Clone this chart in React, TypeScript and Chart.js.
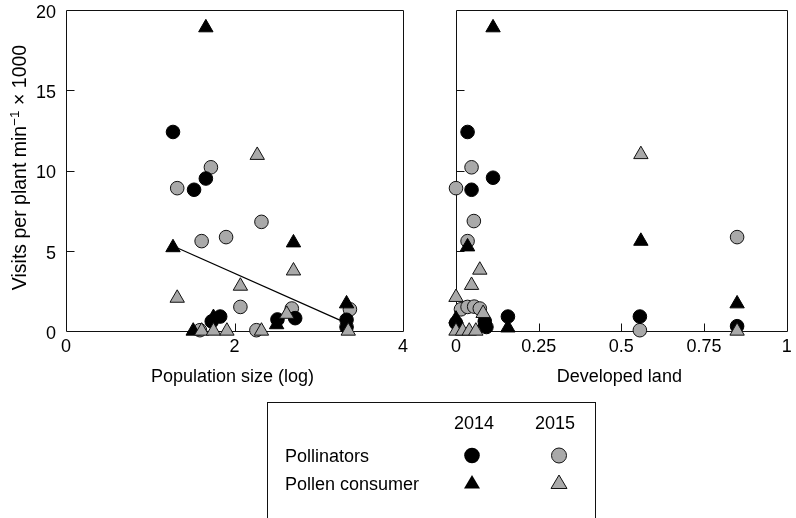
import { useEffect, useRef } from 'react';
import { Chart, registerables } from 'chart.js';

Chart.register(...registerables);

const FONT_FAMILY = '"Liberation Sans", Arial, Helvetica, sans-serif';
const GRAY = '#a9a9a9';

// ---- Left panel: population size (log) ----
const popPolli2014X = [1.27, 1.66, 1.52, 1.83, 1.73, 2.51, 2.72, 3.33, 3.33];
const popPolli2014Y = [12.4, 9.5, 8.8, 0.9, 0.6, 0.72, 0.8, 0.7, 0.25];
const popPolli2015X = [1.72, 1.32, 2.32, 1.61, 1.9, 2.07, 2.68, 3.37, 2.26, 1.59];
const popPolli2015Y = [10.2, 8.9, 6.8, 5.6, 5.85, 1.5, 1.4, 1.35, 0.05, 0.05];
const popCons2014X = [1.66, 1.27, 2.7, 3.33, 1.75, 1.51, 2.5];
const popCons2014Y = [18.9, 5.2, 5.5, 1.7, 0.85, 0, 0.4];
const popCons2015X = [2.27, 1.32, 2.07, 2.7, 2.62, 1.61, 1.75, 1.91, 2.32, 3.35];
const popCons2015Y = [10.95, 2.05, 2.8, 3.75, 1.05, 0, 0, 0, 0, 0];
const trendX = [1.27, 3.25];
const trendY = [5.3, 0.68];

// ---- Right panel: developed land ----
const devPolli2014X = [0.035, 0.112, 0.047, 0.157, 0.556, 0.85, 0, 0.087, 0.092];
const devPolli2014Y = [12.4, 9.55, 8.8, 0.9, 0.9, 0.3, 0.5, 0.6, 0.25];
const devPolli2015X = [0.047, 0, 0.054, 0.035, 0.85, 0.556, 0.015, 0.035, 0.055, 0.072];
const devPolli2015Y = [10.2, 8.9, 6.85, 5.6, 5.85, 0.05, 1.35, 1.5, 1.52, 1.4];
const devCons2014X = [0.112, 0.559, 0.035, 0.85, 0, 0.157, 0.085];
const devCons2014Y = [18.9, 5.6, 5.25, 1.7, 0.75, 0.2, 0.5];
const devCons2015X = [0.559, 0.072, 0.047, 0, 0.082, 0.85, 0, 0.02, 0.04, 0.06];
const devCons2015Y = [11.0, 3.8, 2.85, 2.1, 1.1, 0, 0, 0, 0, 0];

// ---- Ticks and labels ----
const yTickValues = [0, 5, 10, 15, 20];
const popTickValues = [0, 2, 4];
const devTickValues = [0, 0.25, 0.5, 0.75, 1];
const yTitleMain = 'Visits per plant min';
const yTitleSup = '\u22121';
const yTitleTail = ' \u00d7 1000';
const popTitle = 'Population size (log)';
const devTitle = 'Developed land';
const legendYears = ['2014', '2015'];
const legendGroups = ['Pollinators', 'Pollen consumer'];

const pts = (xs: number[], ys: number[]) => xs.map((x, i) => ({ x, y: ys[i] }));

const framePlugin = {
  id: 'frame',
  beforeDatasetsDraw(chart: any, _args: any, opts: any) {
    const { ctx, chartArea: a } = chart;
    const xs = chart.scales.x;
    const ys = chart.scales.y;
    const L = Math.round(a.left) + 0.5;
    const R = Math.round(a.right) + 0.5;
    const T = Math.round(a.top) + 0.5;
    const B = Math.round(a.bottom) + 0.5;
    ctx.save();
    ctx.strokeStyle = '#111';
    ctx.lineWidth = 1;
    ctx.beginPath();
    ctx.rect(L, T, R - L, B - T);
    const yt: number[] = opts.yTicks;
    const xt: number[] = opts.xTicks;
    yt.slice(1, -1).forEach((v) => {
      const py = Math.round(ys.getPixelForValue(v)) + 0.5;
      ctx.moveTo(L, py);
      ctx.lineTo(L + 8, py);
    });
    xt.slice(1, -1).forEach((v) => {
      const px = Math.round(xs.getPixelForValue(v)) + 0.5;
      ctx.moveTo(px, B);
      ctx.lineTo(px, B - 8);
    });
    ctx.stroke();
    ctx.restore();
  },
  afterDraw(chart: any, _args: any, opts: any) {
    const { ctx, chartArea: a } = chart;
    ctx.save();
    ctx.fillStyle = '#000';
    ctx.font = `18px ${FONT_FAMILY}`;
    ctx.textAlign = 'center';
    ctx.textBaseline = 'alphabetic';
    ctx.fillText(opts.xTitle, (a.left + a.right) / 2 - 2, a.bottom + 50.5);
    if (opts.yTitle) {
      ctx.translate(26, (a.top + a.bottom) / 2 - 3);
      ctx.rotate(-Math.PI / 2);
      ctx.textAlign = 'left';
      ctx.font = `19.5px ${FONT_FAMILY}`;
      const w1 = ctx.measureText(yTitleMain).width;
      const w3 = ctx.measureText(yTitleTail).width;
      ctx.font = `13.5px ${FONT_FAMILY}`;
      const w2 = ctx.measureText(yTitleSup).width;
      let sx = -(w1 + w2 + w3) / 2;
      ctx.font = `19.5px ${FONT_FAMILY}`;
      ctx.fillText(yTitleMain, sx, 0);
      sx += w1;
      ctx.font = `13.5px ${FONT_FAMILY}`;
      ctx.fillText(yTitleSup, sx, -7.5);
      sx += w2;
      ctx.font = `19.5px ${FONT_FAMILY}`;
      ctx.fillText(yTitleTail, sx, 0);
    }
    ctx.restore();
  },
};

function markerSets(p14x: number[], p14y: number[], p15x: number[], p15y: number[], c14x: number[], c14y: number[], c15x: number[], c15y: number[]) {
  return [
    {
      label: 'Pollen consumer 2015',
      data: pts(c15x, c15y),
      pointStyle: 'triangle',
      pointRadius: 8.3,
      backgroundColor: GRAY,
      borderColor: '#111',
      borderWidth: 1,
      clip: false,
      order: 1,
    },
    {
      label: 'Pollen consumer 2014',
      data: pts(c14x, c14y),
      pointStyle: 'triangle',
      pointRadius: 8.3,
      backgroundColor: '#000',
      borderColor: '#000',
      borderWidth: 1,
      clip: false,
      order: 2,
    },
    {
      label: 'Pollinators 2014',
      data: pts(p14x, p14y),
      pointStyle: 'circle',
      pointRadius: 6.8,
      backgroundColor: '#000',
      borderColor: '#000',
      borderWidth: 1,
      clip: false,
      order: 3,
    },
    {
      label: 'Pollinators 2015',
      data: pts(p15x, p15y),
      pointStyle: 'circle',
      pointRadius: 6.8,
      backgroundColor: GRAY,
      borderColor: '#111',
      borderWidth: 1,
      clip: false,
      order: 4,
    },
  ];
}

function makeConfig(opts: {
  datasets: any[];
  xMax: number;
  xTicks: number[];
  showYLabels: boolean;
  yAxisWidth: number;
  padRight: number;
  xTitle: string;
  yTitle: boolean;
}): any {
  const tickFont = { family: FONT_FAMILY, size: 18, lineHeight: 1 };
  const noPad = (s: any) => {
    s.paddingTop = 0;
    s.paddingBottom = 0;
    s.paddingLeft = 0;
    s.paddingRight = 0;
  };
  return {
    type: 'scatter',
    data: { datasets: opts.datasets },
    plugins: [framePlugin],
    options: {
      animation: false,
      responsive: false,
      devicePixelRatio: 1,
      events: [],
      layout: { padding: { top: 10, right: opts.padRight, bottom: 0, left: 0 } },
      plugins: {
        legend: { display: false },
        tooltip: { enabled: false },
        frame: { xTicks: opts.xTicks, yTicks: yTickValues, xTitle: opts.xTitle, yTitle: opts.yTitle },
      },
      scales: {
        x: {
          type: 'linear',
          position: 'bottom',
          min: 0,
          max: opts.xMax,
          afterBuildTicks: (s: any) => {
            s.ticks = opts.xTicks.map((v) => ({ value: v }));
          },
          afterFit: (s: any) => {
            s.height = 69;
            noPad(s);
          },
          grid: { display: false, drawTicks: false },
          border: { display: false },
          ticks: {
            padding: 7,
            font: tickFont,
            color: '#000',
            maxRotation: 0,
            autoSkip: false,
            callback: (v: any) => String(v),
          },
        },
        y: {
          type: 'linear',
          position: 'left',
          min: 0,
          max: 20,
          afterBuildTicks: (s: any) => {
            s.ticks = yTickValues.map((v) => ({ value: v }));
          },
          afterFit: (s: any) => {
            s.width = opts.yAxisWidth;
            noPad(s);
          },
          grid: { display: false, drawTicks: false },
          border: { display: false },
          ticks: {
            display: opts.showYLabels,
            padding: 10,
            labelOffset: 3,
            font: tickFont,
            color: '#000',
            autoSkip: false,
            callback: (v: any) => String(v),
          },
        },
      },
    },
  };
}

function Panel({ config, left, width, height }: { config: () => any; left: number; width: number; height: number }) {
  const ref = useRef<HTMLCanvasElement>(null);
  useEffect(() => {
    const chart = new Chart(ref.current as HTMLCanvasElement, config());
    return () => chart.destroy();
  }, []);
  return (
    <canvas
      ref={ref}
      width={width}
      height={height}
      style={{ position: 'absolute', left, top: 0, width, height }}
    />
  );
}

const leftConfig = () =>
  makeConfig({
    datasets: [
      ...markerSets(popPolli2014X, popPolli2014Y, popPolli2015X, popPolli2015Y, popCons2014X, popCons2014Y, popCons2015X, popCons2015Y),
      {
        label: 'trend',
        data: pts(trendX, trendY),
        showLine: true,
        pointRadius: 0,
        borderColor: '#000',
        borderWidth: 1.2,
        order: 10,
      },
    ],
    xMax: 4,
    xTicks: popTickValues,
    showYLabels: true,
    yAxisWidth: 66,
    padRight: 17,
    xTitle: popTitle,
    yTitle: true,
  });

const rightConfig = () =>
  makeConfig({
    datasets: markerSets(devPolli2014X, devPolli2014Y, devPolli2015X, devPolli2015Y, devCons2014X, devCons2014Y, devCons2015X, devCons2015Y),
    xMax: 1,
    xTicks: devTickValues,
    showYLabels: false,
    yAxisWidth: 36,
    padRight: 6,
    xTitle: devTitle,
    yTitle: false,
  });

function Legend() {
  const col = [472, 559];
  const textStyle = { fontFamily: FONT_FAMILY, fontSize: 18, fill: '#000' } as any;
  const tri = (cx: number, cy: number) => `${cx},${cy - 7} ${cx + 8},${cy + 6.5} ${cx - 8},${cy + 6.5}`;
  return (
    <svg
      width={796}
      height={518}
      style={{ position: 'absolute', left: 0, top: 0, pointerEvents: 'none' }}
    >
      <rect x={267.5} y={402.5} width={328} height={130} fill="none" stroke="#111" strokeWidth={1} />
      <text x={474} y={428.5} textAnchor="middle" style={textStyle}>{legendYears[0]}</text>
      <text x={555} y={428.5} textAnchor="middle" style={textStyle}>{legendYears[1]}</text>
      <text x={285} y={461.5} style={textStyle}>{legendGroups[0]}</text>
      <text x={285} y={489.5} style={textStyle}>{legendGroups[1]}</text>
      <circle cx={col[0]} cy={455.5} r={7.8} fill="#000" />
      <circle cx={col[1]} cy={455.5} r={7.5} fill={GRAY} stroke="#111" strokeWidth={1} />
      <polygon points={tri(col[0], 482)} fill="#000" />
      <polygon points={tri(col[1], 482)} fill={GRAY} stroke="#111" strokeWidth={1} />
    </svg>
  );
}

export default function App() {
  return (
    <div
      style={{
        position: 'fixed',
        left: 0,
        top: 0,
        width: 796,
        height: 518,
        overflow: 'hidden',
        background: '#fff',
      }}
    >
      <Panel config={leftConfig} left={0} width={420} height={400} />
      <Panel config={rightConfig} left={420} width={376} height={400} />
      <Legend />
    </div>
  );
}
